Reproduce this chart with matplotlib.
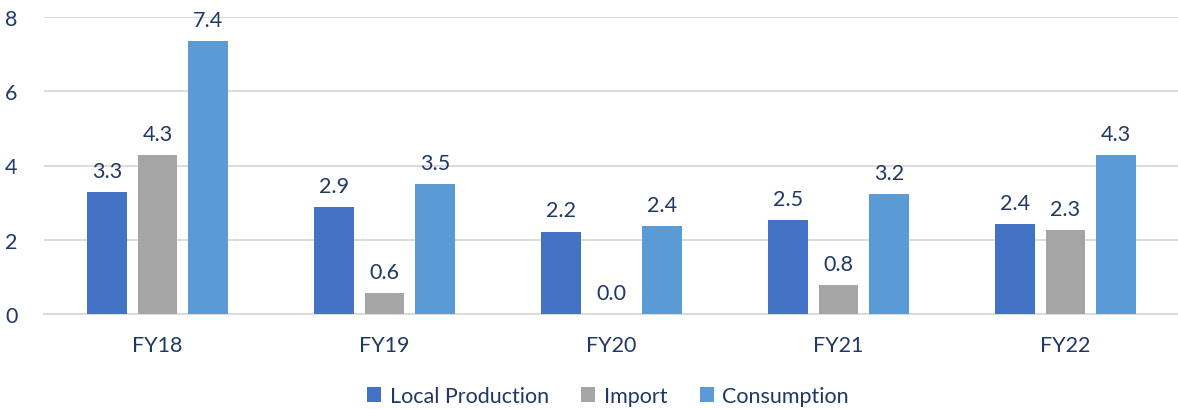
import matplotlib
matplotlib.use("Agg")
import matplotlib.pyplot as plt
import numpy as np

categories = ["FY18", "FY19", "FY20", "FY21", "FY22"]
local_production = [3.28, 2.88, 2.22, 2.54, 2.42]
imports = [4.27, 0.57, 0.0, 0.78, 2.26]
consumption = [7.36, 3.50, 2.37, 3.24, 4.28]
series_names = ["Local Production", "Import", "Consumption"]
colors = ["#4472C4", "#A5A5A5", "#5B9BD5"]
text_color = "#1F3864"

plt.rcParams['font.family'] = ['Lato', 'DejaVu Sans']

fig = plt.figure(figsize=(11.78, 4.10), dpi=100)
ax = fig.add_axes([44/1178, 95/410, (1179-44)/1178, (315-18)/410])

x = np.arange(len(categories))
width = 0.176
offset = 0.222
for i, (vals, name, c) in enumerate(zip([local_production, imports, consumption], series_names, colors)):
    pos = x + (i - 1) * offset
    bars = ax.bar(pos, vals, width=width, color=c, label=name, zorder=3)
    for b, v in zip(bars, vals):
        ax.annotate(f"{v:.1f}", (b.get_x() + b.get_width()/2, v), xytext=(0, 8),
                    textcoords="offset points", ha="center", va="bottom",
                    fontsize=15.5, color=text_color)

ax.set_xlim(-0.5, len(categories) - 0.5)
ax.set_ylim(0, 8)
ax.set_yticks([0, 2, 4, 6, 8])
ax.set_xticks(x)
ax.set_xticklabels(categories)
ax.yaxis.grid(True, color="#D9D9D9", linewidth=1.3, zorder=0)
for s in ["top", "right", "left"]:
    ax.spines[s].set_visible(False)
ax.spines["bottom"].set_color("#D9D9D9")
ax.spines["bottom"].set_linewidth(1.3)
ax.tick_params(axis="both", length=0, labelsize=15.5, colors=text_color)
ax.tick_params(axis="y", pad=19)
ax.tick_params(axis="x", pad=15)

leg = fig.legend(loc="center", bbox_to_anchor=(608/1178, 13/410), ncol=3, frameon=False,
                 fontsize=15.5, handlelength=0.65, handleheight=0.65, columnspacing=1.5,
                 handletextpad=0.4)
for t in leg.get_texts():
    t.set_color(text_color)

fig.savefig("out.png", dpi=100)
